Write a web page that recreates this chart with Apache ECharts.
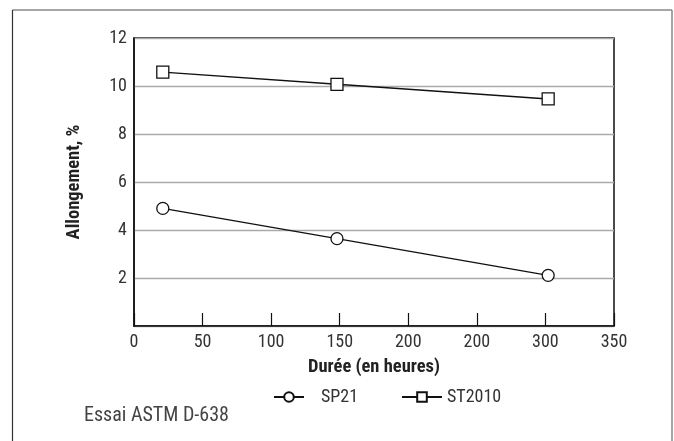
<!DOCTYPE html>
<html><head><meta charset="utf-8">
<script src="https://cdn.jsdelivr.net/npm/echarts@6/dist/echarts.min.js"></script>
<style>html,body{margin:0;padding:0;background:#fff}#c{width:674px;height:441px}</style>
</head><body><div id="c"></div>
<script>
const xTickLabels = ['0','50','100','150','200','200','300','350'];
const yTickLabels = ['','2','4','6','8','10','12'];
const seriesNames = ['SP21','ST2010'];
const hours = [21, 148, 302];
const sp21 = [4.9, 3.64, 2.11];
const st2010 = [10.58, 10.07, 9.46];
const footnote = 'Essai ASTM D-638';

const FONT = '"Roboto Condensed","DejaVu Sans Condensed",sans-serif';
const chart = echarts.init(document.getElementById('c'));
function pts(vals){ return hours.map((h,i)=>[h, vals[i]]); }
const lineStyle = {color:'#111',width:1.4};
const itemStyle = {color:'#fff',borderColor:'#111',borderWidth:1.3};
chart.setOption({
  animation:false,
  graphic:[
    {type:'line',shape:{x1:12.5,y1:10,x2:672,y2:10},style:{stroke:'#888',lineWidth:1.5}},
    {type:'line',shape:{x1:672,y1:10,x2:672,y2:441},style:{stroke:'#888',lineWidth:1.5}},
    {type:'line',shape:{x1:12.5,y1:10,x2:12.5,y2:441},style:{stroke:'#333',lineWidth:1.2}},
    {type:'text',style:{x:84,y:416,text:footnote,font:'20px '+FONT,fill:'#444',verticalAlign:'middle',textVerticalAlign:'middle'}}
  ],
  grid:{left:134,right:60,top:38,bottom:115,show:true,borderColor:'#111',borderWidth:1.5,containLabel:false},
  xAxis:{type:'value',min:0,max:350,interval:50,
    name:'Durée (en heures)',nameLocation:'middle',nameGap:32,
    nameTextStyle:{fontFamily:FONT,fontWeight:'bold',fontSize:18.5,color:'#222'},
    axisLine:{lineStyle:{color:'#111',width:1.5}},
    axisTick:{show:true,inside:true,length:13,lineStyle:{color:'#111',width:1.2}},
    axisLabel:{margin:7,fontFamily:FONT,fontSize:18,color:'#333',
      formatter:(v)=>xTickLabels[Math.round(v/50)]},
    splitLine:{show:false}},
  yAxis:{type:'value',min:0,max:12,interval:2,
    name:'Allongement, %',nameLocation:'middle',nameGap:50,nameRotate:90,
    nameTextStyle:{fontFamily:FONT,fontWeight:'bold',fontSize:18.5,color:'#222'},
    axisLine:{show:true,lineStyle:{color:'#111',width:1.5}},
    axisTick:{show:false},
    axisLabel:{margin:7,fontFamily:FONT,fontSize:18,color:'#333',
      formatter:(v)=>yTickLabels[Math.round(v/2)]},
    splitLine:{show:true,lineStyle:{color:'#aaa',width:1.3}}},
  legend:[
    {top:383,left:268,itemWidth:30,itemHeight:12,
     textStyle:{fontFamily:FONT,fontSize:18,color:'#333',padding:[0,0,0,12]},
     data:[seriesNames[0]]},
    {top:383,left:396,itemWidth:40,itemHeight:12,
     textStyle:{fontFamily:FONT,fontSize:18,color:'#333'},
     data:[seriesNames[1]]}
  ],
  series:[
    {name:seriesNames[0],type:'line',data:pts(sp21),symbol:'circle',symbolSize:12,lineStyle,itemStyle},
    {name:seriesNames[1],type:'line',data:pts(st2010),symbol:'rect',symbolSize:12,lineStyle,itemStyle}
  ]
});
</script></body></html>
